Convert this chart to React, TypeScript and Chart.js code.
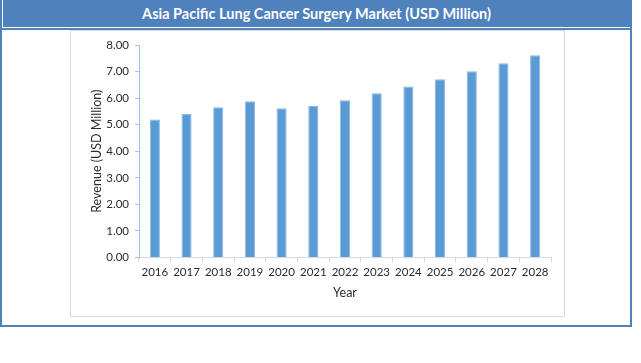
import React, { useEffect, useRef } from "react";
import { Chart, registerables } from "chart.js";

Chart.register(...registerables);

const categories = ["2016", "2017", "2018", "2019", "2020", "2021", "2022", "2023", "2024", "2025", "2026", "2027", "2028"];
const revenue = [5.2, 5.4, 5.66, 5.88, 5.62, 5.7, 5.92, 6.18, 6.44, 6.71, 7.01, 7.31, 7.61];
const yTicks = [0, 1, 2, 3, 4, 5, 6, 7, 8];

const TITLE = "Asia Pacific Lung Cancer Surgery Market (USD Million)";
const FONT = "Lato, 'Open Sans', sans-serif";
const BLUE = "#4F81BD";

export default function App() {
  const ref = useRef<HTMLCanvasElement | null>(null);

  useEffect(() => {
    if (!ref.current) return;
    const chart = new Chart(ref.current, {
      type: "bar",
      data: {
        labels: categories,
        datasets: [
          {
            label: "Revenue",
            data: revenue,
            backgroundColor: "#5B9BD5",
            borderColor: "#8CB8E6",
            borderWidth: 1,
            barPercentage: 0.32,
            categoryPercentage: 1,
          },
        ],
      },
      options: {
        responsive: false,
        animation: false,
        maintainAspectRatio: false,
        layout: { padding: { left: 0, top: 14, right: 13, bottom: 14 } },
        plugins: { legend: { display: false }, tooltip: { enabled: false }, title: { display: false } },
        scales: {
          x: {
            afterFit: (s: any) => { s.height = 44.5; },
            grid: { display: true, drawOnChartArea: false, drawTicks: true, tickLength: 5, color: "#D9D9D9", offset: true },
            border: { display: true, color: "#D9D9D9", width: 1 },
            ticks: { color: "#2b2b2b", font: { family: FONT, size: 11.5 }, padding: 3, maxRotation: 0, autoSkip: false },
            title: { display: true, text: "Year", color: "#2b2b2b", font: { family: FONT, size: 12.5 }, padding: { top: 0, bottom: 2 } },
          },
          y: {
            min: 0,
            max: 8,
            afterFit: (s: any) => { s.width = 68; },
            afterBuildTicks: (s: any) => { s.ticks = yTicks.map((v) => ({ value: v })); },
            grid: { display: true, drawOnChartArea: false, drawTicks: true, tickLength: 4, color: "#9DC3E6" },
            border: { display: true, color: "#9DC3E6", width: 1 },
            ticks: { color: "#2b2b2b", font: { family: FONT, size: 11.5 }, padding: 6, callback: (v: any) => Number(v).toFixed(2) },
            title: { display: true, text: "Revenue (USD Million)", color: "#2b2b2b", font: { family: FONT, size: 12.5 }, padding: { top: 18, bottom: 0 } },
          },
        },
      },
    });
    return () => chart.destroy();
  }, []);

  return (
    <div style={{ position: "fixed", left: 0, top: 0, width: 641, height: 363, background: "#fff" }}>
      <div style={{ position: "absolute", left: 0, top: 0, width: 632, height: 327, boxSizing: "border-box", border: `2px solid ${BLUE}`, borderTop: "none" }} />
      <div
        style={{
          position: "absolute", left: 3, top: 0, width: 627, height: 27, background: BLUE, color: "#fff",
          fontFamily: FONT, fontWeight: 700, fontSize: 14.5, lineHeight: "27px", textAlign: "center",
        }}
      >
        {TITLE}
      </div>
      <div style={{ position: "absolute", left: 0, top: 28, width: 632, height: 2, background: BLUE }} />
      <div style={{ position: "absolute", left: 70, top: 30, width: 495, height: 287, boxSizing: "border-box", border: "1px solid #D9D9D9" }} />
      <canvas ref={ref} width={493} height={285} style={{ position: "absolute", left: 71, top: 31, width: 493, height: 285 }} />
    </div>
  );
}
